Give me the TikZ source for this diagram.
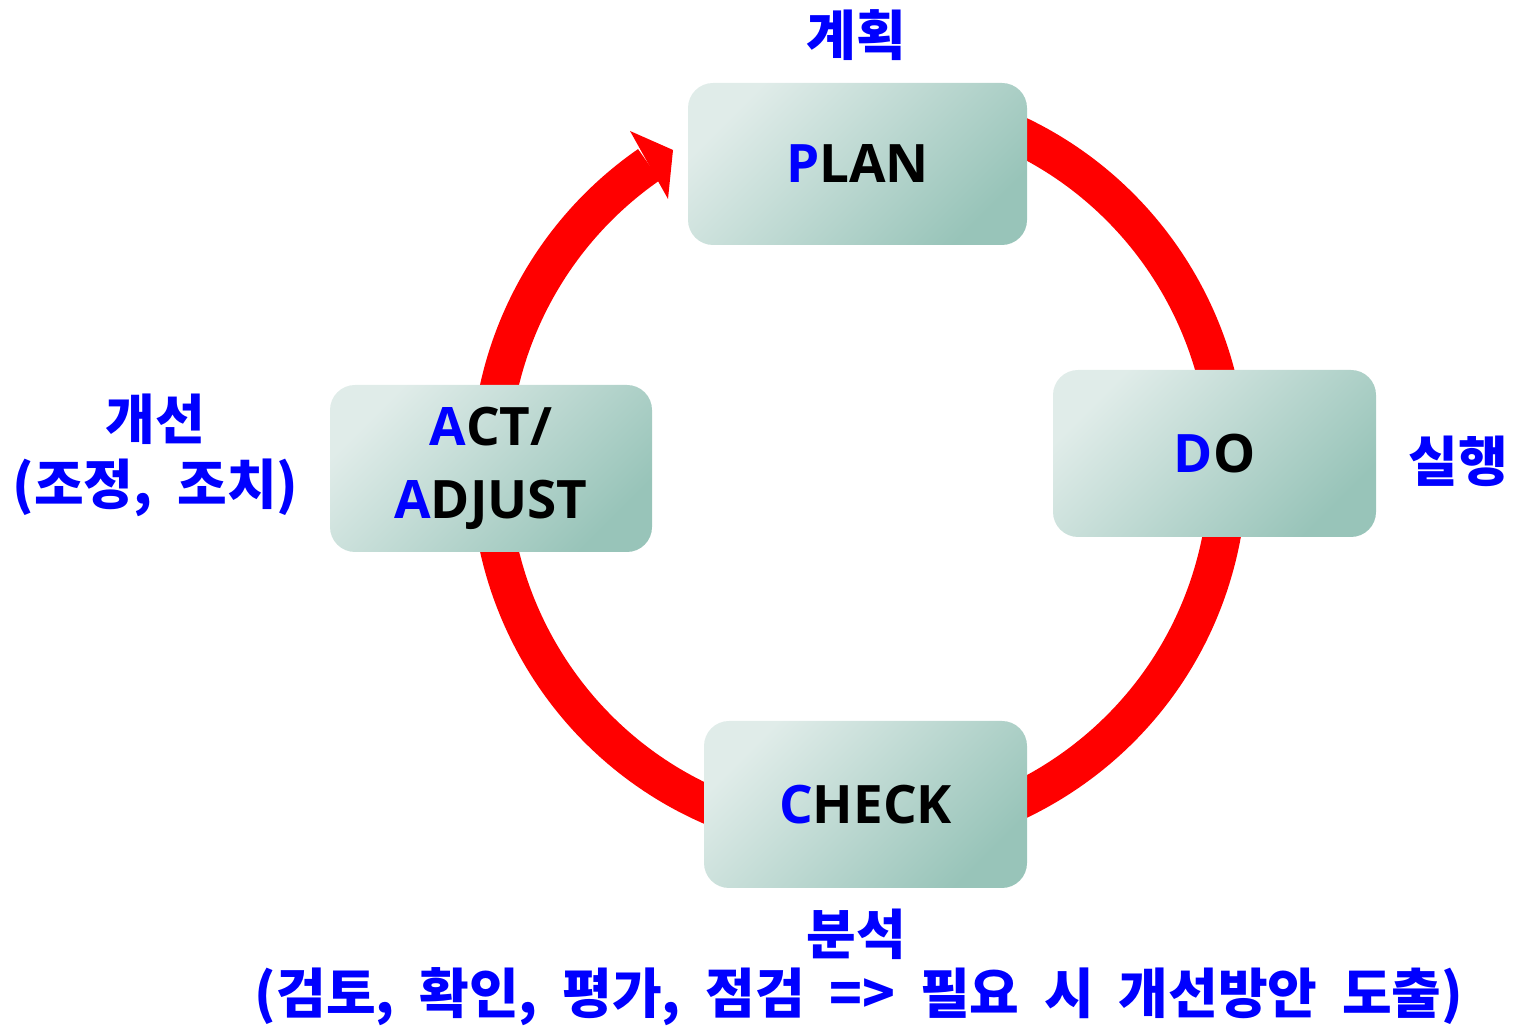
\documentclass[tikz,border=0pt]{standalone}
\usepackage{fontspec}
\setmainfont{Open Sans}
\newfontfamily\kr{Noto Sans CJK KR}[WordSpace=2]
\definecolor{boxlight}{HTML}{E0ECE9}
\definecolor{boxdark}{HTML}{98C4B9}
\definecolor{kblue}{HTML}{0000FF}
\definecolor{ringred}{HTML}{FF0000}
\begin{document}
\begin{tikzpicture}[x=1pt,y=1pt,
  stage/.style={rounded corners=25pt, top color=boxlight, bottom color=boxdark,
    shading angle=45, inner sep=0pt, align=center,
    font=\fontsize{53}{73}\selectfont\bfseries},
  klabel/.style={inner sep=0pt, text=kblue, align=center,
    font=\kr\bfseries\fontsize{54}{65}\selectfont},
  ring/.style={draw=ringred, line width=38pt}]
\useasboundingbox (0,0) rectangle (1514,1027);
% red cycle ring (behind the boxes)
\draw[ring] (859,559) ++(75:369) arc[start angle=75, end angle=-235.3, radius=369];
\fill[ringred] (630,896) -- (673,877) -- (668,828) -- cycle;
% stage boxes
\node[stage, minimum width=339pt, minimum height=162pt] (plan) at (857.5,863) {\textcolor{kblue}{P}LAN};
\node[stage, minimum width=323pt, minimum height=167pt] (do) at (1214.5,573.5) {\textcolor{kblue}{D}O};
\node[stage, minimum width=323pt, minimum height=167pt] (check) at (865.5,222.5) {\textcolor{kblue}{C}HECK};
\node[stage, minimum width=322pt, minimum height=167pt] (act) at (491,558.5) {\textcolor{kblue}{A}CT/\\\textcolor{kblue}{A}DJUST};
% Korean labels
\node[klabel] (lplan) at (856.5,992) {계획};
\node[klabel] (ldo) at (1458,566) {실행};
\node[klabel] (lact) at (155.5,572) {개선\\(조정, 조치)};
\node[klabel] (lcheck) at (856.5,93) {분석};
\node[klabel] (lcheck2) at (859,30) {(검토, 확인, 평가, 점검 => 필요 시 개선방안 도출)};
\end{tikzpicture}
\end{document}
